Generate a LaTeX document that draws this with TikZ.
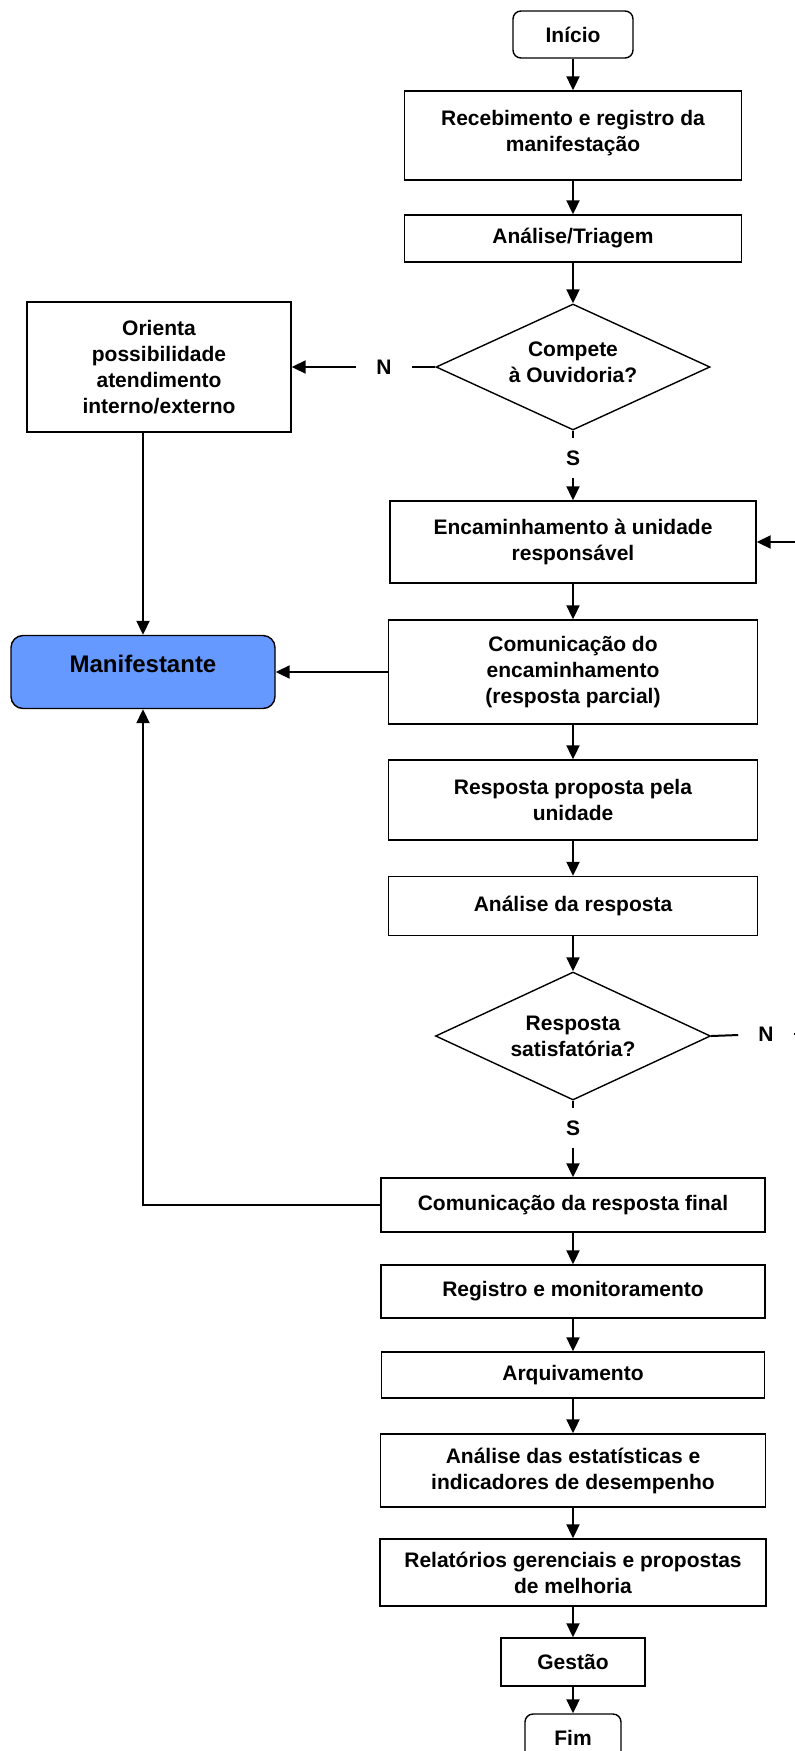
\documentclass[tikz,border=0pt]{standalone}
\usepackage{fontspec}
\setmainfont{Liberation Sans}
\usetikzlibrary{arrows.meta,shapes.geometric}
\definecolor{manifblue}{RGB}{102,153,255}
\begin{document}
\begin{tikzpicture}[x=1pt,y=-1pt,
  font=\fontsize{21}{26}\selectfont\bfseries,
  box/.style={rectangle,draw,line width=1.4pt,align=center,inner sep=0pt},
  term/.style={box,rounded corners=8pt},
  decision/.style={diamond,aspect=2.2,draw,line width=1.4pt,align=center,inner sep=0pt},
  answer/.style={inner xsep=20pt,inner ysep=12pt},
  link/.style={line width=2pt},
  flow/.style={link,-{Triangle[length=14pt,width=13pt]}}]
  \useasboundingbox (0,0) rectangle (795,1751);
  \clip (0,0) rectangle (795,1751);
  \node [term,minimum width=120pt,minimum height=47pt] (inicio) at (573,34.5) {Início};
  \node [box,minimum width=337pt,minimum height=89pt,text depth=10pt] (receb) at (573,135.5)
    {Recebimento e registro da\\manifestação};
  \node [box,minimum width=337pt,minimum height=47pt] (triagem) at (573,238.5) {Análise/Triagem};
  \node [decision,minimum width=274pt,minimum height=126pt,text depth=10pt] (compete) at (573,367)
    {Compete\\à Ouvidoria?};
  \node [box,minimum width=264pt,minimum height=130pt] (orienta) at (159,367)
    {Orienta\\possibilidade\\atendimento\\interno/externo};
  \node [answer] (n1) at (384,367) {N};
  \node [answer] (s1) at (573,458) {S};
  \node [box,minimum width=366pt,minimum height=82pt] (encam) at (573,542)
    {Encaminhamento à unidade\\responsável};
  \node [box,minimum width=369pt,minimum height=104pt] (comenc) at (573,672)
    {Comunicação do\\encaminhamento\\(resposta parcial)};
  \node [term,rounded corners=12pt,fill=manifblue,minimum width=264pt,minimum height=73pt,
    text depth=17pt,font=\fontsize{24}{28}\selectfont\bfseries] (manif) at (143,672) {Manifestante};
  \node [box,minimum width=369pt,minimum height=80pt] (resprop) at (573,800)
    {Resposta proposta pela\\unidade};
  \node [box,minimum width=369pt,minimum height=59pt] (analresp) at (573,906) {Análise da resposta};
  \node [decision,minimum width=275pt,minimum height=128pt] (satisf) at (573,1036)
    {Resposta\\satisfatória?};
  \node [answer] (n2) at (766,1034) {N};
  \node [answer] (s2) at (573,1128) {S};
  \node [box,minimum width=384pt,minimum height=54pt] (comfinal) at (573,1205)
    {Comunicação da resposta final};
  \node [box,minimum width=384pt,minimum height=53pt] (registro) at (573,1291.5)
    {Registro e monitoramento};
  \node [box,minimum width=383pt,minimum height=46pt] (arquiv) at (573,1375) {Arquivamento};
  \node [box,minimum width=385pt,minimum height=73pt] (estat) at (573,1470.5)
    {Análise das estatísticas e\\indicadores de desempenho};
  \node [box,minimum width=386pt,minimum height=67pt] (relat) at (573,1572.5)
    {Relatórios gerenciais e propostas\\de melhoria};
  \node [box,minimum width=144pt,minimum height=48pt] (gestao) at (573,1662) {Gestão};
  \node [term,minimum width=96pt,minimum height=47pt] (fim) at (573,1737.5) {Fim};
  \coordinate (back) at (812,1034);
  \draw [flow] (inicio) -- (receb);
  \draw [flow] (receb) -- (triagem);
  \draw [flow] (triagem) -- (compete);
  \draw [link] (compete.west) -- (n1);
  \draw [flow] (n1) -- (orienta);
  \draw [flow] (manif.north |- orienta.south) -- (manif.north);
  \draw [link] (compete.south) -- (s1);
  \draw [flow] (s1) -- (encam);
  \draw [flow] (encam) -- (comenc);
  \draw [flow] (comenc) -- (manif);
  \draw [flow] (comenc) -- (resprop);
  \draw [flow] (resprop) -- (analresp);
  \draw [flow] (analresp) -- (satisf);
  \draw [link] (satisf.east) -- (n2);
  \draw [flow] (n2.east) -- (back) |- (encam.east);
  \draw [link] (satisf.south) -- (s2);
  \draw [flow] (s2) -- (comfinal);
  \draw [flow] (comfinal.west) -| (manif.south);
  \draw [flow] (comfinal) -- (registro);
  \draw [flow] (registro) -- (arquiv);
  \draw [flow] (arquiv) -- (estat);
  \draw [flow] (estat) -- (relat);
  \draw [flow] (relat) -- (gestao);
  \draw [flow] (gestao) -- (fim);
\end{tikzpicture}
\end{document}
